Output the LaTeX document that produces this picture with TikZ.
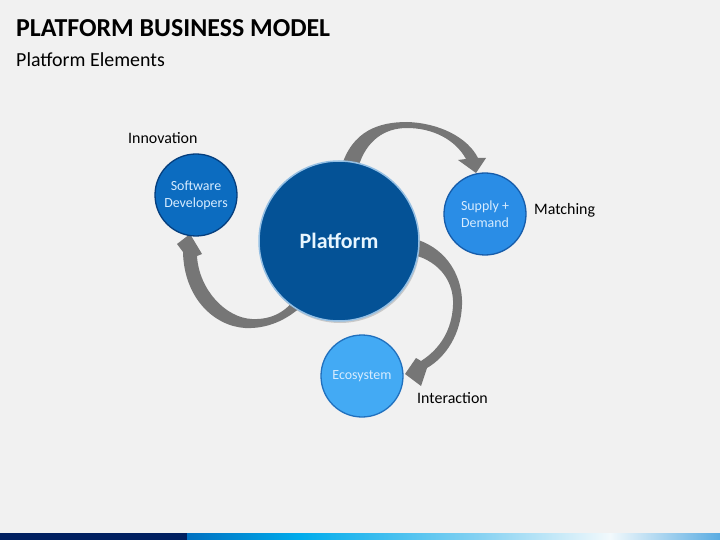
\documentclass[tikz,border=0pt]{standalone}
\usepackage{fontspec}
\setmainfont{Carlito}
\usetikzlibrary{shadows}
\definecolor{bg}{RGB}{241,241,241}
\definecolor{arrowgray}{RGB}{118,118,118}
\definecolor{platblue}{RGB}{4,82,150}
\definecolor{platrim}{RGB}{150,192,228}
\definecolor{plattext}{RGB}{232,246,255}
\definecolor{devblue}{RGB}{12,108,192}
\definecolor{devrim}{RGB}{5,62,125}
\definecolor{supblue}{RGB}{42,141,230}
\definecolor{suprim}{RGB}{22,92,170}
\definecolor{ecoblue}{RGB}{67,170,244}
\definecolor{ecorim}{RGB}{32,112,190}
\definecolor{smalltext}{RGB}{215,236,255}
\definecolor{navy}{RGB}{0,32,96}
\definecolor{cA}{RGB}{0,112,192}
\definecolor{cB}{RGB}{0,172,236}
\definecolor{cC}{RGB}{135,210,242}
\definecolor{cD}{RGB}{242,249,252}
\definecolor{cE}{RGB}{90,172,226}
\tikzset{
  bubble/.style={circle, inner sep=0pt, align=center, line width=1.3bp, font=\fontsize{14}{17}\selectfont, text=smalltext},
  bigbubble/.style={circle, inner sep=0pt, minimum size=160bp, fill=platblue, draw=platrim, line width=1.5bp,
     font=\bfseries\fontsize{22}{26}\selectfont, text=plattext,
     drop shadow={shadow xshift=1bp, shadow yshift=-2bp, opacity=0.35}},
  lbl/.style={font=\fontsize{16}{19}\selectfont, text=black, inner sep=0pt},
  blockarrow/.style={fill=arrowgray, draw=none}
}
\begin{document}
\begin{tikzpicture}[x=1bp,y=-1bp]
\useasboundingbox (0,0) rectangle (720,540);
\fill[bg] (0,0) rectangle (720,540);

% title
\node[anchor=west, inner sep=0pt, font=\bfseries\fontsize{26}{30}\selectfont] (title) at (16,28) {PLATFORM BUSINESS MODEL};
\node[anchor=west, inner sep=0pt, font=\fontsize{20}{24}\selectfont] (subtitle) at (16,60) {Platform Elements};

% arrows (drawn before the circles)
% Platform -> Supply + Demand
\path[blockarrow] (341,168) .. controls (352,130) and (380,122) .. (407,122)
   .. controls (440,123) and (468,138) .. (478,158) -- (486,158) -- (476,173) -- (458,160) -- (466,159)
   .. controls (455,139) and (432,128) .. (407,128)
   .. controls (385,128) and (366,140) .. (358,168) -- cycle;
% Platform -> Ecosystem
\path[blockarrow] (418,240) .. controls (448,250) and (463,278) .. (462,305)
   .. controls (461,334) and (446,357) .. (427,368) -- (421,386) -- (405,374) -- (416,358) -- (421,361)
   .. controls (440,349) and (452,330) .. (453,305)
   .. controls (454,282) and (440,262) .. (414,255) -- cycle;
% Platform -> Software Developers
\path[blockarrow] (305,303) .. controls (287,321) and (266,329) .. (245,328)
   .. controls (214,326) and (184,298) .. (183,252) -- (177,244) -- (190,234) -- (202,254) -- (197,256)
   .. controls (199,290) and (226,318) .. (252,319)
   .. controls (272,320) and (287,311) .. (296,297) -- cycle;

% circles
\node[bigbubble] (plat) at (339,241) {Platform};
\node[bubble, minimum size=82bp, fill=devblue, draw=devrim] (dev) at (196,195) {Software\\Developers};
\node[bubble, minimum size=82bp, fill=supblue, draw=suprim] (sup) at (485,214) {Supply +\\Demand};
\node[bubble, minimum size=82bp, fill=ecoblue, draw=ecorim] (eco) at (362,376) {Ecosystem};

% labels
\node[lbl, anchor=west] (innov) at (128,138) {Innovation};
\node[lbl, anchor=west] (match) at (534,210) {Matching};
\node[lbl, anchor=west] (inter) at (417,398) {Interaction};

% bottom bar
\fill[navy] (0,533) rectangle (187,540);
\shade[left color=cA, right color=cB, draw=none] (187,533) rectangle (300.5,540);
\shade[left color=cB, right color=cC, draw=none] (300,533) rectangle (480.5,540);
\shade[left color=cC, right color=cD, draw=none] (480,533) rectangle (610.5,540);
\shade[left color=cD, right color=cE, draw=none] (610,533) rectangle (720,540);
\end{tikzpicture}
\end{document}
